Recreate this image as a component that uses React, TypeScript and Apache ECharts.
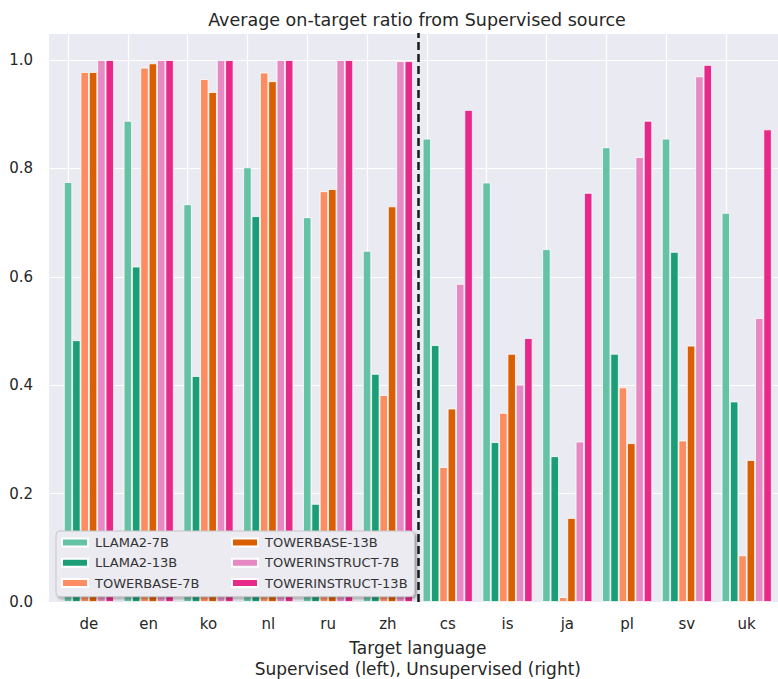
import React, { useEffect, useRef } from "react";
import * as echarts from "echarts";

const languages = ["de", "en", "ko", "nl", "ru", "zh", "cs", "is", "ja", "pl", "sv", "uk"];
const modelNames = ["LLAMA2-7B", "LLAMA2-13B", "TOWERBASE-7B", "TOWERBASE-13B", "TOWERINSTRUCT-7B", "TOWERINSTRUCT-13B"];
const modelColors = ["#66c2a5", "#1b9e77", "#fc8d62", "#d95f02", "#e78ac3", "#e7298a"];

const llama2_7b = [0.775, 0.888, 0.734, 0.802, 0.710, 0.648, 0.855, 0.774, 0.651, 0.839, 0.855, 0.718];
const llama2_13b = [0.483, 0.619, 0.417, 0.712, 0.181, 0.421, 0.474, 0.295, 0.269, 0.458, 0.646, 0.370];
const towerbase_7b = [0.978, 0.986, 0.965, 0.977, 0.758, 0.382, 0.249, 0.349, 0.009, 0.396, 0.298, 0.086];
const towerbase_13b = [0.978, 0.994, 0.941, 0.961, 0.762, 0.730, 0.357, 0.458, 0.155, 0.293, 0.473, 0.262];
const towerinstruct_7b = [1.0, 1.0, 1.0, 1.0, 1.0, 0.998, 0.587, 0.401, 0.296, 0.821, 0.970, 0.524];
const towerinstruct_13b = [1.0, 1.0, 1.0, 1.0, 1.0, 0.998, 0.908, 0.487, 0.755, 0.888, 0.991, 0.872];

const seriesValues = [llama2_7b, llama2_13b, towerbase_7b, towerbase_13b, towerinstruct_7b, towerinstruct_13b];
const yTicks = [0, 0.2, 0.4, 0.6, 0.8, 1.0];
const separatorPosition = 5.5; // between "zh" and "cs"

const FONT = "DejaVu Sans";

export default function App() {
  const ref = useRef<HTMLDivElement>(null);
  useEffect(() => {
    if (!ref.current) return;
    const chart = echarts.init(ref.current, undefined, { renderer: "svg" });
    const top = 33;
    const bottom = 77;
    const bars = modelNames.map((name, i) => {
      const s: any = {
        name,
        type: "bar",
        xAxisIndex: 1,
        yAxisIndex: 1,
        data: seriesValues[i],
        barWidth: 8.35,
        barGap: "0%",
        itemStyle: { color: modelColors[i], borderColor: "#ffffff", borderWidth: 0.8 },
        z: 3,
      };
      if (i === 0) {
        s.markLine = {
          silent: true,
          z: 1,
          symbol: ["none", "none"],
          label: { show: false },
          lineStyle: { color: "#ffffff", width: 1.2, type: "solid" },
          data: languages.map((l) => ({ xAxis: l })),
        };
      }
      return s;
    });
    const legendText = { fontFamily: FONT, fontSize: 13, color: "#333333", lineHeight: 15, padding: [0, 0, 0, 2] };
    const option: any = {
      animation: false,
      backgroundColor: "#ffffff",
      title: {
        text: "Average on-target ratio from Supervised source",
        left: 412,
        top: 6,
        textAlign: "center",
        textStyle: { fontFamily: FONT, fontSize: 17.5, fontWeight: "normal", color: "#262626" },
      },
      grid: [
        { left: 49, right: 0, top, bottom, show: true, backgroundColor: "#eaeaf2", borderWidth: 0, z: 0, containLabel: false, outerBoundsMode: "none" },
        { left: 59, right: 1.4, top, bottom, show: false, containLabel: false, outerBoundsMode: "none" },
      ],
      xAxis: [
        {
          type: "value",
          gridIndex: 0,
          min: -0.669,
          max: 11.522,
          show: false,
          splitLine: { show: false },
        },
        {
          type: "category",
          gridIndex: 1,
          data: languages,
          axisLine: { show: false, onZero: false },
          axisTick: { show: false },
          axisLabel: { fontFamily: FONT, fontSize: 15, color: "#262626", margin: 14 },
          splitLine: { show: false },
          name: "Target language\nSupervised (left), Unsupervised (right)",
          nameLocation: "middle",
          nameGap: 35,
          nameTextStyle: { fontFamily: FONT, fontSize: 17, color: "#262626", lineHeight: 21 },
        },
      ],
      yAxis: [
        {
          type: "value",
          gridIndex: 0,
          min: 0,
          max: 1.05,
          interval: 0.2,
          axisLine: { show: false },
          axisTick: { show: false },
          axisLabel: {
            fontFamily: FONT,
            fontSize: 15,
            color: "#262626",
            margin: 16,
            showMaxLabel: false,
            formatter: (v: number) => (yTicks.some((t) => Math.abs(t - v) < 1e-9) ? v.toFixed(1) : ""),
          },
          splitLine: { show: true, lineStyle: { color: "#ffffff", width: 1.2 } },
        },
        { type: "value", gridIndex: 1, min: 0, max: 1.05, show: false, splitLine: { show: false } },
      ],
      legend: [
        {
          data: modelNames.slice(0, 3),
          orient: "vertical",
          left: 56,
          top: 531,
          padding: [4, 215, 6, 5],
          itemWidth: 26,
          itemHeight: 8,
          itemGap: 5.3,
          icon: "rect",
          backgroundColor: "#ebebf1",
          borderColor: "#c8c8c8",
          borderWidth: 1,
          borderRadius: 4,
          shadowBlur: 3,
          shadowColor: "rgba(0,0,0,0.35)",
          shadowOffsetX: 2,
          shadowOffsetY: 2,
          textStyle: legendText,
        },
        {
          data: modelNames.slice(3),
          orient: "vertical",
          left: 231,
          top: 535,
          padding: 0,
          itemWidth: 26,
          itemHeight: 8,
          itemGap: 5.3,
          icon: "rect",
          textStyle: legendText,
        },
      ],
      series: [
        {
          name: "separator",
          type: "line",
          xAxisIndex: 0,
          yAxisIndex: 0,
          data: [],
          symbol: "none",
          silent: true,
          markLine: {
            silent: true,
            z: 6,
            symbol: ["none", "none"],
            label: { show: false },
            lineStyle: { color: "#1a1a1a", width: 2.5, type: [8, 4] },
            data: [{ xAxis: separatorPosition }],
          },
        },
        ...bars,
      ],
    };
    chart.setOption(option);
    return () => chart.dispose();
  }, []);
  return <div ref={ref} style={{ position: "fixed", left: 0, top: 0, width: 778, height: 679 }} />;
}
